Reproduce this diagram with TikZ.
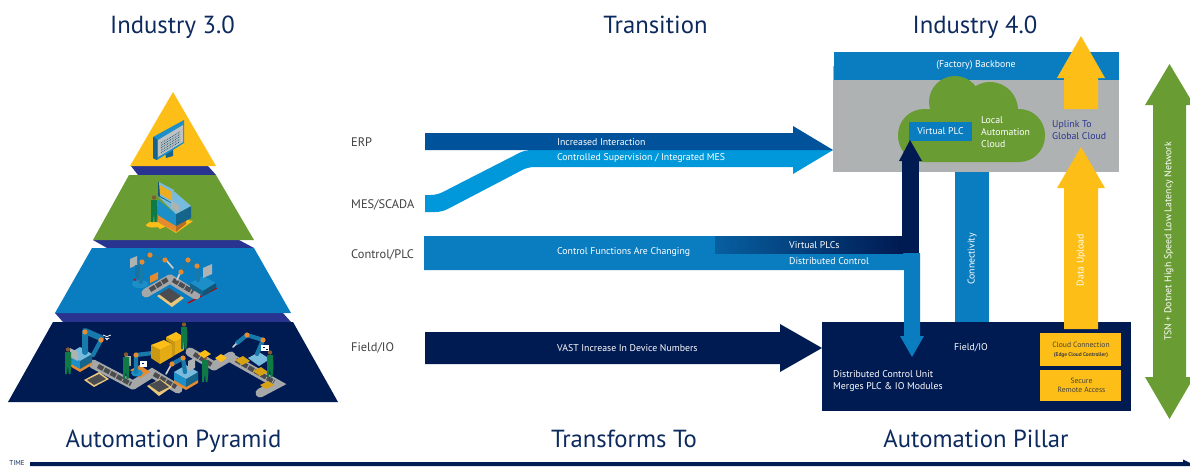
\documentclass[tikz,border=0pt]{standalone}
\usepackage{fontspec}
\setmainfont{PT Sans}
\definecolor{navy}{HTML}{001A52}
\definecolor{tier}{HTML}{0A7DC1}
\definecolor{sky}{HTML}{0098DA}
\definecolor{erp}{HTML}{00529B}
\definecolor{leaf}{HTML}{6A9C34}
\definecolor{gold}{HTML}{FDBE17}
\definecolor{stone}{HTML}{AFB2B3}
\definecolor{band}{HTML}{28348F}
\definecolor{ink}{HTML}{0D2A5E}
\definecolor{lab}{HTML}{404040}
\definecolor{mach}{HTML}{1C8FC8}
\definecolor{joint}{HTML}{E58A2E}
\definecolor{belt}{HTML}{A5A7A9}
\definecolor{beltd}{HTML}{4A4C50}
\definecolor{pers}{HTML}{0F7A45}
\definecolor{tan}{HTML}{E9C77B}
\tikzset{
 title/.style={text=ink,font=\fontsize{24.7}{28}\selectfont,inner sep=0pt,anchor=base},
 side/.style={text=lab,font=\fontsize{12.4}{14}\selectfont,anchor=west,inner sep=0pt},
 lbl/.style={text=white,font=\fontsize{9.8}{12}\selectfont,anchor=west,inner sep=0pt,align=left},
 lblc/.style={text=white,font=\fontsize{9.8}{12}\selectfont,inner sep=0pt,align=center},
 rlbl/.style={lblc,rotate=90},
 dark/.style={text=lab,font=\fontsize{7.6}{9}\selectfont,inner sep=0pt,align=center},
 beltline/.style={line width=9pt,belt,line cap=round},
 beltin/.style={line width=4.5pt,beltd,dash pattern=on 6pt off 1.2pt},
 arm/.style={line width=4.2pt,mach!85!black,line cap=round,line join=round},
 wrist/.style={line width=1.6pt,stone!60!white,line cap=round},
}
\newcommand{\jnt}[2]{\fill[joint] (#1,#2) circle (2.6pt);}
\newcommand{\worker}[2]{\begin{scope}[shift={(#1,#2)}]
 \fill[pers] (-3,-10) -- (3,-10) -- (3.5,2) -- (2.5,12) -- (0.6,12) -- (0,3) -- (-1,12) -- (-3,12) -- cycle;
 \fill[brown!70!black] (0,-12.5) circle (2.2pt);
 \end{scope}}
\newcommand{\cabinet}[2]{\begin{scope}[shift={(#1,#2)}]
 \fill[joint] (-12,3) -- (0,10) -- (12,3) -- (12,7) -- (0,14) -- (-12,7) -- cycle;
 \fill[mach] (-12,-4) -- (0,3) -- (0,11) -- (-12,4) -- cycle;
 \fill[mach!70!black] (0,3) -- (12,-4) -- (12,4) -- (0,11) -- cycle;
 \fill[mach!60!white] (-12,-4) -- (0,-11) -- (12,-4) -- (0,3) -- cycle;
 \end{scope}}
\begin{document}
\begin{tikzpicture}[x=1pt,y=-1pt]
\useasboundingbox (0,0) rectangle (1190,466);
% ---- pyramid
\fill[band] (131,166) -- (208,166) -- (216,175) -- (138,175) -- cycle;
\fill[band] (93,240) -- (239,240) -- (254,248) -- (107,248) -- cycle;
\fill[band] (55,313) -- (283,313) -- (291,322) -- (63,322) -- cycle;
\fill[gold] (173,92) -- (216,166) -- (130,166) -- cycle;
\fill[leaf] (129,175) -- (216,175) -- (254,240) -- (93,240) -- cycle;
\fill[tier] (92,248) -- (254,248) -- (291,313) -- (55,313) -- cycle;
\fill[navy] (53,322) -- (293,322) -- (338,402) -- (8,402) -- cycle;
% monitor
\fill[mach!70!black] (165,152) -- (173,150) -- (173,156) -- (166,158) -- cycle;
\fill[mach] (153,137) -- (184,120) -- (184,143) -- (157,160) -- (153,158) -- cycle;
\fill[mach!70!black] (153,137) -- (157,139) -- (157,160) -- (153,158) -- cycle;
\fill[stone!80!white] (158,140) -- (183,125) -- (183,142) -- (158,157) -- cycle;
\foreach \k in {0,1,2,3,4}{\draw[mach!60!black,line width=.8pt,densely dotted] (161,{143+2.4*\k}) -- (180,{132+2.4*\k});}
% operator station
\fill[gold] (148,222) -- (158,222) -- (176,233) -- (193,221) -- (183,219) -- (160,229) -- (155,225) -- cycle;
\fill[gold] (153,225) ellipse (7pt and 2.5pt);
\fill[joint] (158,215) -- (176,226) -- (176,232) -- (158,222) -- cycle;
\fill[joint!80!black] (176,226) -- (186,220) -- (186,224) -- (176,232) -- cycle;
\fill[mach] (158,200) -- (176,214) -- (176,226) -- (158,215) -- cycle;
\fill[mach!70!black] (176,214) -- (191,206) -- (191,218) -- (176,226) -- cycle;
\fill[mach!60!white] (158,196) -- (175,192) -- (191,206) -- (176,214) -- cycle;
\fill[mach!60!black] (158,182) -- (173,190) -- (173,204) -- (158,196) -- cycle;
\fill[mach!60!white] (159,182) -- (174,190) -- (174,204) -- (160,196) -- cycle;
\fill[joint!70!yellow] (160,185) -- (172,192) -- (172,201) -- (160,194) -- cycle;
\fill[stone] (171,201) -- (179,205) -- (179,212) -- (171,208) -- cycle;
\worker{154}{210}
% robot cell (blue tier)
\draw[line width=1.3pt,red!75!black] (134,279) -- (140,285);
\draw[line width=1.3pt,red!75!black] (188,303) -- (217,288);
\draw[beltline] (146,293) -- (170,279);
\draw[beltline] (170,279) -- (196,295);
\draw[beltin] (150,290) -- (168,279);
\draw[beltin] (173,280) -- (193,292);
\fill[tan] (157,296) -- (169,289) -- (184,298) -- (172,307) -- cycle;
\fill[beltd] (159,294) -- (169,288) -- (181,296) -- (171,303) -- cycle;
\fill[stone] (130,259) -- (137,256) -- (137,265) -- (130,268) -- cycle;
\fill[mach!80!black] (135,265) rectangle (143,279);
\fill[mach] (140,284) ellipse (8pt and 4pt);
\draw[arm] (141,282) -- (142,262) -- (150,255) -- (165,260);
\draw[wrist] (166,260) -- (173,268);
\jnt{142}{262}\jnt{150}{255}\jnt{165}{260}
\fill[joint] (150,276) -- (158,272) -- (158,279) -- (150,283) -- cycle;
\fill[mach] (190,283) -- (203,276) -- (216,283) -- (203,291) -- cycle;
\fill[mach!70!black] (190,283) -- (203,291) -- (203,296) -- (190,288) -- cycle;
\fill[mach!60!black] (203,291) -- (216,283) -- (216,288) -- (203,296) -- cycle;
\fill[stone] (203,268) -- (212,264) -- (212,274) -- (203,278) -- cycle;
\draw[arm] (198,280) -- (197,266) -- (188,260) -- (181,272);
\draw[wrist] (180,273) -- (177,280);
\jnt{197}{266}\jnt{188}{260}\jnt{181}{272}
% factory line (navy tier)
\draw[beltline] (93,364) -- (133,385);
\draw[beltline] (133,385) -- (152,373) -- (178,389);
\draw[beltline] (190,352) -- (214,366);
\draw[beltline] (214,366) -- (231,356);
\draw[beltline] (231,358) -- (277,384) -- (260,393);
\draw[beltin] (98,366) -- (131,384);
\draw[beltin] (154,374) -- (176,387);
\draw[beltin] (194,354) -- (212,365);
\draw[beltin] (236,360) -- (274,382);
\fill[tan] (84,380) -- (99,372) -- (109,379) -- (94,387) -- cycle;
\fill[beltd] (87,380) -- (99,374) -- (106,379) -- (94,385) -- cycle;
\fill[tan] (147,386) -- (160,379) -- (172,387) -- (159,396) -- cycle;
\fill[beltd] (149,385) -- (160,380) -- (169,387) -- (159,392) -- cycle;
\cabinet{80}{358}
\fill[stone] (70,348) -- (78,352) -- (78,361) -- (70,357) -- cycle;
\draw[arm,line width=6pt] (85,352) -- (85,331) -- (101,338);
\draw[arm] (101,340) -- (93,355);
\jnt{101}{340}\jnt{85}{332}
\worker{68}{362}
\fill[joint] (130,370) -- (140,365) -- (150,372) -- (140,378) -- cycle;
\fill[mach] (137,373) ellipse (6pt and 3.5pt);
\draw[arm] (136,372) -- (136,355) -- (153,353);
\jnt{136}{355}\jnt{153}{353}
\fill[stone] (125,356) rectangle (131,366);
\worker{126}{367}
% boxes
\fill[gold!80!black] (151,345) -- (160,350) -- (160,364) -- (151,358) -- cycle;
\fill[gold!90!black] (160,350) -- (172,344) -- (172,357) -- (160,364) -- cycle;
\fill[gold] (151,345) -- (164,340) -- (172,344) -- (160,350) -- cycle;
\fill[gold!80!black] (166,337) -- (175,342) -- (175,355) -- (172,357) -- (172,344) -- (166,340) -- cycle;
\fill[gold!90!black] (175,342) -- (184,337) -- (184,350) -- (175,355) -- cycle;
\fill[gold] (166,337) -- (176,332) -- (184,337) -- (175,342) -- cycle;
\worker{184}{337}
\cabinet{186}{376}
\draw[arm] (185,372) -- (183,358) -- (172,364);
\draw[wrist] (171,365) -- (166,374);
\jnt{183}{358}\jnt{172}{364}
\fill[stone] (188,361) -- (195,358) -- (195,368) -- (188,371) -- cycle;
\worker{205}{370}
\fill[gold] (198,354) -- (205,350) -- (211,354) -- (204,358) -- cycle;
\fill[gold] (215,358) -- (221,354) -- (227,358) -- (221,362) -- cycle;
\fill[gold!85!black] (235,360) -- (243,356) -- (250,361) -- (242,365) -- cycle;
\fill[gold!85!black] (253,371) -- (261,367) -- (268,372) -- (260,376) -- cycle;
\fill[gold!85!black] (260,385) -- (268,381) -- (274,385) -- (266,389) -- cycle;
\fill[mach!60!white] (248,358) -- (259,352) -- (270,359) -- (259,366) -- cycle;
\draw[arm] (257,354) -- (263,340) -- (247,335) -- (237,343);
\draw[wrist] (236,344) -- (233,347);
\jnt{263}{340}\jnt{247}{335}
\worker{270}{365}
% small white icons
\draw[white,line width=.8pt] (103,335) arc (225:315:5.5pt);
\draw[white,line width=.8pt] (105,338) arc (225:315:3pt);
\fill[white] (107,339.5) circle (.9pt);
\fill[white] (140,361) rectangle (147,367);
\fill[navy] (142,362.5) rectangle (144,364);
\fill[white] (261,345) rectangle (269,351);
\fill[navy] (263,346.5) rectangle (265,348);
\fill[navy] (266,348.5) rectangle (268,350);
% ---- titles
\node[title] (t1) at (172.5,33) {Industry 3.0};
\node[title] (t2) at (655.5,33) {Transition};
\node[title] (t3) at (975,33) {Industry 4.0};
\node[title] (t4) at (173.5,447) {Automation Pyramid};
\node[title] (t5) at (624,447) {Transforms To};
\node[title] (t6) at (976,447) {Automation Pillar};
% ---- side labels
\node[side] (l1) at (351,142) {ERP};
\node[side] (l2) at (351,205) {MES/SCADA};
\node[side] (l3) at (351,255) {Control/PLC};
\node[side] (l4) at (351,348) {Field/IO};
% ---- Industry 4.0 block
\fill[stone] (833,66) rectangle (1119,172);
\fill[tier] (834,52) rectangle (1119,80);
\fill[leaf] (955,102) circle (26pt);
\fill[leaf] (990,110) circle (28pt);
\fill[leaf,rounded corners=26pt] (898,109) rectangle (1045,162);
\fill[tier] (909,122) rectangle (972,141);
\node[lblc] (vp) at (940.5,131.5) {Virtual PLC};
\node[lblc] (bb) at (976,65.5) {(Factory) Backbone};
\node[lbl] (lac) at (981,132) {Local\\Automation\\Cloud};
\node[lbl,text=band] (up) at (1052,130) {Uplink To\\Global Cloud};
% ---- horizontal arrows
\fill[sky] (425,195) -- (425,212) [rounded corners=6pt] -- (442,212) -- (528,167) -- (800,167) [sharp corners] -- (800,150) [rounded corners=6pt] -- (525,150) -- (437,195) [sharp corners] -- (425,195) -- cycle;
\fill[sky] (793,150) -- (833,150) -- (793,174) -- (793,166.5) -- (780,166.5) -- (780,150) -- cycle;
\fill[erp] (425,133) -- (793,133) -- (793,126) -- (833,150) -- (425,150) -- cycle;
\node[lbl] (a1) at (557,142) {Increased Interaction};
\node[lbl] (a2) at (557,158.5) {Controlled Supervision / Integrated MES};
% ---- control split
\fill[tier] (424,236) -- (720,236) -- (720,253) -- (920,253) -- (920,336) -- (924,336) -- (912,357) -- (900,336) -- (904,336) -- (904,270) -- (424,270) -- cycle;
\shade[left color=tier!70!navy,right color=navy] (715,236) rectangle (903,253);
\fill[navy] (902,160) rectangle (919,253);
\fill[navy] (899,161) -- (910,140) -- (922,161) -- cycle;
\node[lbl] (a3) at (557,252) {Control Functions Are Changing};
\node[lbl] (a4) at (789,245) {Virtual PLCs};
\node[lbl] (a5) at (789,261.5) {Distributed Control};
% ---- pillar
\fill[tier] (955,172) rectangle (989,323);
\fill[navy] (425,332) -- (780,332) -- (780,324) -- (822,348) -- (780,372) -- (780,364) -- (425,364) -- cycle;
\node[lbl] (a6) at (557,348) {VAST Increase In Device Numbers};
\fill[navy] (822,322) rectangle (1131,411);
\fill[tier] (904,322) -- (920,322) -- (920,336) -- (924,336) -- (912,357) -- (900,336) -- (904,336) -- cycle;
\node[rlbl] (c1) at (972,259) {Connectivity};
\node[lblc] (f1) at (971,347.5) {Field/IO};
\node[lbl] (d1) at (833,381) {Distributed Control Unit\\Merges PLC \& IO Modules};
\fill[gold] (1040,333) rectangle (1121,366);
\fill[gold] (1040,370) rectangle (1121,401);
\node[dark] (y1) at (1081,344.5) {Cloud Connection};
\node[dark,font=\fontsize{5.4}{7}\selectfont\bfseries] (y2) at (1081,355) {(Edge Cloud Controller)};
\node[dark] (y3) at (1081.5,385.5) {Secure\\Remote Access};
% ---- yellow arrows
\fill[gold] (1064,329) -- (1064,188) -- (1057,188) -- (1081,147) -- (1105,188) -- (1098,188) -- (1098,329) -- cycle;
\fill[gold] (1064,109) -- (1064,78) -- (1057,78) -- (1081,36) -- (1105,78) -- (1098,78) -- (1098,109) -- cycle;
\node[rlbl] (c2) at (1081,260) {Data Upload};
% ---- green double arrow
\fill[leaf] (1169.5,64) -- (1194,105) -- (1186,105) -- (1186,377) -- (1194,377) -- (1169.5,419) -- (1145,377) -- (1153,377) -- (1153,105) -- (1145,105) -- cycle;
\node[rlbl] (c3) at (1169,241.5) {TSN + Dotnet High Speed Low Latency Network};
% ---- time
\node[text=ink,font=\fontsize{7}{8}\selectfont,inner sep=0pt,anchor=base] (tm) at (17,465.3) {TIME};
\fill[navy] (30,462) -- (1183,462) -- (1183,459.5) -- (1190,463) -- (1190,466) -- (30,466) -- cycle;
\end{tikzpicture}
\end{document}
